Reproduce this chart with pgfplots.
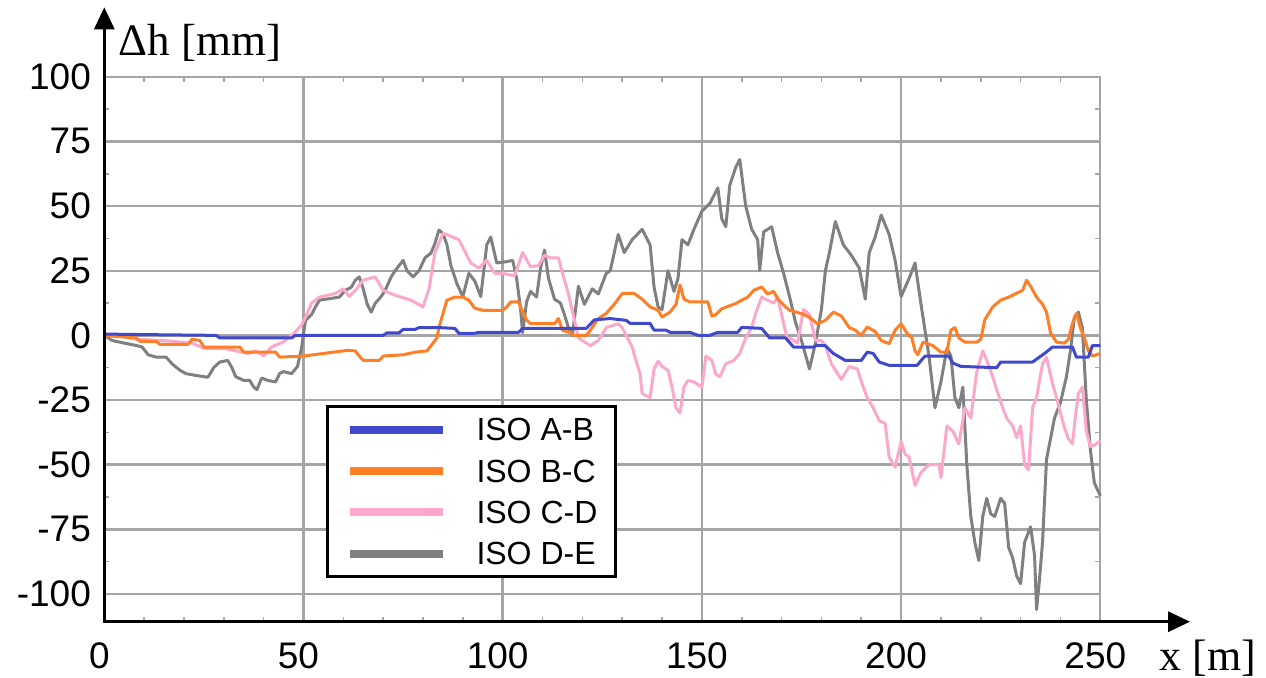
\documentclass[border=0pt]{standalone}
\usepackage{fontspec}
\setmainfont{Liberation Sans}
\newfontfamily\seriffont{Liberation Serif}
\usepackage{pgfplots}
\pgfplotsset{compat=1.18}
\usetikzlibrary{arrows.meta}
\definecolor{cab}{RGB}{64,72,204}
\definecolor{cbc}{RGB}{255,127,39}
\definecolor{ccd}{RGB}{252,168,204}
\definecolor{cde}{RGB}{128,128,128}
\definecolor{gridgray}{RGB}{165,165,165}
\begin{document}
\begin{tikzpicture}
\path[use as bounding box] (-52.15pt,-27.65pt) rectangle (580.85pt,310.85pt);
\begin{axis}[
  scale only axis, width=498pt, height=272.5pt,
  xmin=0, xmax=250, ymin=-110.7, ymax=100,
  xtick={0,50,...,250}, ytick={-100,-75,...,100},
  minor x tick num=4, minor y tick num=1,
  grid=major, major grid style={line width=1.2pt, color=gridgray},
  major tick length=0pt, minor tick length=2.5pt,
  minor tick style={gridgray, line width=0.8pt},
  axis line style={gridgray, line width=1.2pt},
  tick label style={font=\fontsize{18.5}{20}\selectfont},
  /pgf/number format/assume math mode=true,
  xticklabel style={anchor=north, inner sep=0pt, yshift=-10.5pt, xshift=-2.5pt},
  yticklabel style={anchor=east, inner sep=0pt, xshift=-6.5pt},
  clip=false,
  legend image code/.code={\draw[#1, line width=4pt, line cap=butt] (0pt,0pt) -- (46.5pt,0pt);},
  reverse legend,
  legend cell align=left,
  legend style={at={(0.2226,0.3976)}, anchor=north west, draw=black, line width=1.5pt, fill=white,
    inner xsep=9pt, inner ysep=6pt, row sep=9.5pt, column sep=15pt,
    font=\fontsize{16}{18}\selectfont, nodes={inner sep=0pt, text depth=0pt}},
  every axis plot/.append style={line width=1.5pt, line join=round, mark=none},
]
\addplot[cde] coordinates {(0,0)(2,-2)(5,-3)(8,-3.9)(9.5,-4.5)(11,-7.5)(13,-8.4)(15.5,-8.4)(17,-11)(19,-13.5)(20.5,-14.8)(23,-15.5)(26,-16.2)(27.5,-12.4)(29,-10.3)(31,-9.7)(32,-12.4)(33,-16)(35,-17.4)(36.5,-17.4)(37.5,-20)(38.3,-21)(39.5,-16.5)(41,-17.4)(43,-18)(44,-14.8)(45,-14)(47,-14.8)(48.5,-12)(49.5,-5)(50.5,5.8)(52,8)(53,11)(54,13.6)(57,14.3)(59,14.8)(60.5,17.4)(62,18.6)(63,21.3)(64,22.6)(65,18)(66,12)(67,9)(68,12.4)(69.5,15)(70.5,17.4)(72,22.6)(73,25)(75,29)(76,25)(77.5,22.6)(79,25)(80.5,30)(82,31.8)(83,35.6)(84,40.7)(85,39.4)(86,35)(87,27)(88.5,20)(90,15)(91.5,24)(93,21)(94.5,15)(96,35)(97,38)(98.5,28)(101,28.5)(102.5,29)(103.5,22)(104.5,10)(105,1)(106,13)(107,17)(108.5,14.8)(109.5,26)(110.5,33)(111.5,22)(113,14)(114.5,12.5)(115.5,8)(116.5,3)(117.5,0)(119,19)(120.5,12)(122.5,18)(124,16)(126,24)(127,25)(129,39)(130.5,32)(132.5,37)(135,41)(137,35)(138,18.6)(139,11)(140,10)(141.5,25)(143,17)(144,22)(145,37)(146.5,35)(148,41)(150,48)(152,51)(154,57)(155,45)(156,42)(157,58)(158.5,65)(159.5,68)(161,50)(162.5,41)(164,37)(164.5,25)(165.5,40)(167.5,42)(169,32)(170.5,24)(172,15)(173.5,5)(175,-2)(177,-13)(178.5,-3)(180,10)(181,25)(182,32)(183.5,44)(185.5,35)(187.5,31)(189.5,26)(191,14)(192,32)(193.5,38)(195,46.5)(197,39)(198.5,29)(200,15)(202,22)(203.5,28)(205,12)(206,2)(207,-8)(208.5,-28)(210,-18)(211.5,-5)(212.5,-8)(213.5,-24)(214.5,-28)(215.5,-20)(216.5,-50)(217.5,-70)(218.5,-80)(219.5,-87)(220.5,-70)(221.5,-63)(222.5,-69)(223.5,-70)(225,-63)(226,-65)(227,-82)(228,-86)(229,-93)(230,-96)(231,-80)(232.5,-74)(233.5,-85)(234,-106)(234.7,-95)(235.5,-80)(236.5,-48)(237.5,-40)(238.5,-32)(240,-26)(241.5,-16)(242.5,-6)(243.5,7)(244.5,9)(245.5,3)(246.5,-25)(247.5,-44)(248.5,-57)(250,-62)};
\addlegendentry{ISO D-E}
\addplot[ccd] coordinates {(0,0)(5,-0.5)(8,-1.5)(15,-2)(22,-3)(25,-5)(30,-5)(36,-7)(38,-6)(40,-8)(42,-4.5)(45,-2.5)(47.5,0.6)(49.5,4)(50.5,7)(52,12.4)(54,14.8)(58,16.2)(60,18)(61.5,15)(63,17.4)(65,21.3)(68,22.6)(70,17.4)(73,15.5)(77,13.6)(80,11)(81.5,18)(83,32)(85,39.4)(86,39)(89,37)(90,34)(92,28)(94,26)(96,29)(98,24)(100,24)(103,23)(105,32)(107,26.5)(109,27)(110.5,31)(112,30)(114,30)(115,24)(116.5,16)(118,6)(119,-1)(120,-2)(122,-4)(124,-2)(126,3)(129,4.5)(130,3)(131,0)(132.5,-4.5)(133.5,-10)(134.5,-15)(135,-22.5)(137,-24)(138,-13)(139,-10)(140,-12)(141.5,-13.5)(142.5,-20)(143.5,-28)(144.5,-30)(145.5,-20)(146.5,-17.4)(148,-18)(150,-20)(151,-8)(152.5,-9.7)(153.5,-15)(154.5,-16)(156,-11)(158,-9.7)(159.5,-7)(161,-1)(162.5,3)(163.5,8.5)(165,14.8)(166.5,13.6)(168,12.5)(169,14.8)(170,8)(171.5,-2)(172,-1)(174,-3)(175.5,10)(177,8)(178.5,-2)(180,-2)(181,-4)(182.5,-11)(185,-17)(187,-12)(189,-13)(190.5,-20)(191.5,-24)(193,-28)(194.5,-33)(196,-34)(197,-47)(198.5,-51)(200,-41)(201,-46)(202,-47)(203.5,-58)(205,-53)(207,-50)(209.5,-50)(210,-55)(211.5,-35)(213,-37)(214.5,-42)(216,-28)(217.5,-32)(219,-14)(220.5,-6)(221.5,-9.7)(223,-16)(224,-21)(225.5,-28)(226.5,-32)(228,-35)(229,-39.5)(230,-35)(231,-50)(232,-52)(233,-28)(234,-24)(235.5,-11)(236.5,-8.5)(238,-18.6)(239,-24)(240,-30)(241,-35.6)(242,-40)(243,-42)(243.7,-32)(244.5,-22.5)(245.5,-20)(246.5,-37)(247.5,-43)(249,-42)(250,-40.7)};
\addlegendentry{ISO C-D}
\addplot[cbc] coordinates {(0,0)(8,-1)(9,-2.3)(13,-2.3)(14,-3.5)(21,-3.5)(22,-1.5)(24,-2)(25,-4.5)(34,-4.5)(35,-6.5)(43,-6.5)(44,-8.4)(50,-8)(55,-7)(61,-5.8)(63,-6)(64,-8)(65,-9.7)(69,-9.7)(70,-8)(75,-7.5)(78,-6.5)(81,-6)(82,-4)(83.5,-1)(84,3)(85.5,11)(86,13.6)(88,14.8)(90,14.8)(91.5,13.6)(93,10.5)(95,9.7)(100,9.7)(101,11)(102,12.9)(104,12.9)(105,9)(106,6)(107,4.5)(113,4.5)(114,6.5)(115,2)(117,1)(118,0)(121,0)(122,2)(124,6.5)(126,8.5)(128,12)(130,16.2)(133,16.2)(135,14)(137,11)(139,9.7)(140,7.1)(142,9)(143.5,12)(144.5,19.5)(145.5,14)(147,12.9)(151.5,12.9)(152.5,7.5)(153.5,8)(155,10.3)(158.5,12.3)(160,13.6)(161.5,14.8)(163,17.4)(165,18.7)(166.5,16)(168,17)(169,14.2)(171,11)(172,9.7)(175,8.4)(177,7)(179,4.5)(181,5.8)(183,9)(185,7.5)(187,3)(188.5,2)(190,0)(191.5,3.2)(193.5,1.5)(195,-2)(197,-3.2)(198.5,2)(200,4.5)(201.5,0.8)(202.7,-1)(203.5,-6)(204.2,-7.5)(205.5,-2.6)(208,-4)(210,-6.5)(211.5,-6.5)(212.5,2)(213.5,3)(214.5,-1)(216,-2.6)(219,-2.6)(220,-1.5)(221,6)(223,11)(225,13.6)(227,14.8)(229,16.3)(230.5,17.4)(231.5,21.3)(232.5,19)(234,14.8)(235.5,12)(236.5,9)(237.5,1)(239,-2.6)(241,-3)(242,-1.5)(243,4.6)(244,8.5)(245,3)(246,-1)(247,-6)(248,-8)(250,-7)};
\addlegendentry{ISO B-C}
\addplot[cab] coordinates {(0,0.5)(10,0.3)(28,0)(29,-1)(47,-1)(48,0)(70,0)(71,1)(74,1)(75,2.3)(78,2.3)(79,3)(84,3)(88,2.7)(89,0.8)(93,0.8)(94,1.2)(104,1.2)(105,2.7)(121,2.7)(123,6)(127,6.5)(131,5.8)(132,4.6)(137,4.6)(138,2)(141,2)(142,1.2)(147,1.2)(149,0)(152,0)(154,1.2)(159,1.2)(160,3.1)(165,2.7)(167,-1)(171,-1)(173,-4.5)(178,-4.5)(179,-3.8)(181,-4)(183,-7)(186,-9.7)(190,-9.7)(191.5,-6.5)(193,-7)(194.5,-10.3)(197,-11.6)(204,-11.6)(206,-8)(212,-8)(213,-10.7)(215,-12)(224,-12.5)(225,-10.3)(233,-10.3)(236,-7)(238,-4.5)(243,-4.5)(244,-8.4)(247,-8.4)(248,-4)(250,-4)};
\addlegendentry{ISO A-B}
\draw[black, line width=1.5pt, line join=miter, {Triangle[length=11pt,width=10pt]}-{Triangle[length=11pt,width=10pt]}]
  (rel axis cs:0,1.1273) -- (rel axis cs:0,0) -- (rel axis cs:1.0901,0);
\node[anchor=base west, inner sep=0pt, font=\seriffont\fontsize{22.5}{24}\selectfont] at (rel axis cs:0.01376,1.0398) {Δh [mm]};
\node[anchor=base west, inner sep=0pt, font=\seriffont\fontsize{22}{24}\selectfont] at (rel axis cs:1.059,-0.0895) {x [m]};
\end{axis}
\end{tikzpicture}
\end{document}
